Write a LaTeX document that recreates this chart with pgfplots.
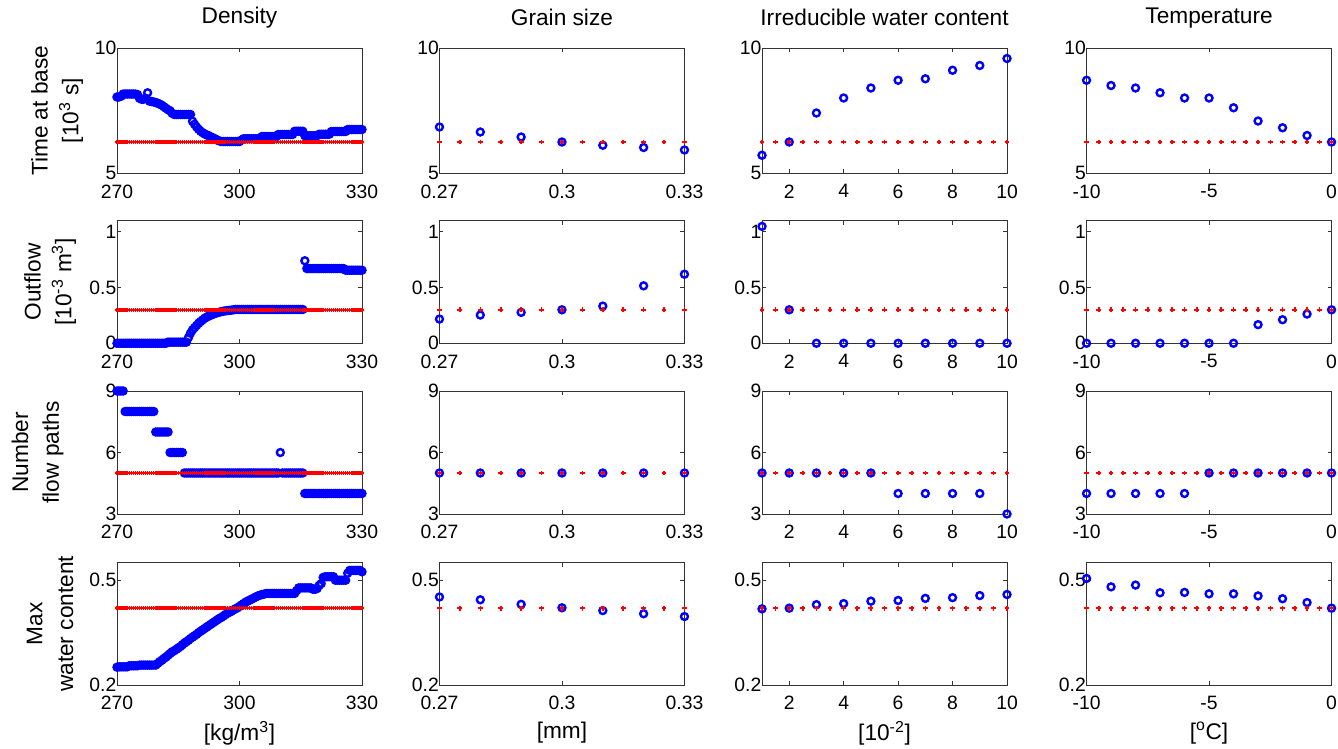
\documentclass[border=0pt]{standalone}
\usepackage{pgfplots}
\usepackage{pgfplotstable}
\pgfplotsset{compat=1.18}
\usepackage{fontspec}
\setmainfont{Liberation Sans}

\pgfplotstableread{
x t o n w bt bo bn bw
270 8.05 0 9 0.251 6.25 0.3 5 0.42
270.5 8.05 0 9 0.252 6.25 0.3 5 0.42
271 8.08 0 9 0.252 6.25 0.3 5 0.42
271.5 8.17 0 9 0.252 6.25 0.3 5 0.42
272 8.17 0 8 0.252 6.25 0.3 5 0.42
272.5 8.17 0 8 0.252 6.25 0.3 5 0.42
273 8.17 0 8 0.255 6.25 0.3 5 0.42
273.5 8.17 0 8 0.255 6.25 0.3 5 0.42
274 8.17 0 8 0.255 6.25 0.3 5 0.42
274.5 8.17 0 8 0.255 6.25 0.3 5 0.42
275 8.15 0 8 0.255 6.25 0.3 5 0.42
275.5 8.00 0 8 0.257 6.25 0.3 5 0.42
276 7.96 0 8 0.257 6.25 0.3 5 0.42
276.5 7.96 0 8 0.257 6.25 0.3 5 0.42
277 8.00 0 8 0.257 6.25 0.3 5 0.42
277.5 8.22 0 8 0.257 6.25 0.3 5 0.42
278 7.88 0 8 0.257 6.25 0.3 5 0.42
278.5 7.87 0 8 0.257 6.25 0.3 5 0.42
279 7.85 0 8 0.257 6.25 0.3 5 0.42
279.5 7.83 0 7 0.257 6.25 0.3 5 0.42
280 7.80 0 7 0.262 6.25 0.3 5 0.42
280.5 7.76 0 7 0.267 6.25 0.3 5 0.42
281 7.72 0 7 0.271 6.25 0.3 5 0.42
281.5 7.66 0 7 0.276 6.25 0.3 5 0.42
282 7.60 0 7 0.280 6.25 0.3 5 0.42
282.5 7.54 0.01 7 0.285 6.25 0.3 5 0.42
283 7.50 0.01 6 0.290 6.25 0.3 5 0.42
283.5 7.40 0.01 6 0.295 6.25 0.3 5 0.42
284 7.35 0.01 6 0.298 6.25 0.3 5 0.42
284.5 7.35 0.01 6 0.302 6.25 0.3 5 0.42
285 7.35 0.01 6 0.306 6.25 0.3 5 0.42
285.5 7.35 0.01 6 0.310 6.25 0.3 5 0.42
286 7.35 0.01 6 0.315 6.25 0.3 5 0.42
286.5 7.35 0.01 5 0.320 6.25 0.3 5 0.42
287 7.35 0.01 5 0.324 6.25 0.3 5 0.42
287.5 7.35 0.05 5 0.328 6.25 0.3 5 0.42
288 7.35 0.09 5 0.333 6.25 0.3 5 0.42
288.5 7.08 0.12 5 0.337 6.25 0.3 5 0.42
289 6.96 0.14 5 0.341 6.25 0.3 5 0.42
289.5 6.85 0.16 5 0.345 6.25 0.3 5 0.42
290 6.76 0.18 5 0.350 6.25 0.3 5 0.42
290.5 6.68 0.195 5 0.354 6.25 0.3 5 0.42
291 6.62 0.21 5 0.358 6.25 0.3 5 0.42
291.5 6.57 0.225 5 0.362 6.25 0.3 5 0.42
292 6.53 0.235 5 0.366 6.25 0.3 5 0.42
292.5 6.50 0.245 5 0.370 6.25 0.3 5 0.42
293 6.45 0.252 5 0.374 6.25 0.3 5 0.42
293.5 6.42 0.26 5 0.378 6.25 0.3 5 0.42
294 6.38 0.267 5 0.382 6.25 0.3 5 0.42
294.5 6.33 0.273 5 0.386 6.25 0.3 5 0.42
295 6.30 0.278 5 0.390 6.25 0.3 5 0.42
295.5 6.27 0.283 5 0.393 6.25 0.3 5 0.42
296 6.27 0.287 5 0.397 6.25 0.3 5 0.42
296.5 6.27 0.29 5 0.401 6.25 0.3 5 0.42
297 6.27 0.293 5 0.405 6.25 0.3 5 0.42
297.5 6.27 0.295 5 0.408 6.25 0.3 5 0.42
298 6.27 0.297 5 0.411 6.25 0.3 5 0.42
298.5 6.27 0.300 5 0.415 6.25 0.3 5 0.42
299 6.27 0.303 5 0.418 6.25 0.3 5 0.42
299.5 6.27 0.303 5 0.421 6.25 0.3 5 0.42
300 6.27 0.303 5 0.425 6.25 0.3 5 0.42
300.5 6.33 0.303 5 0.429 6.25 0.3 5 0.42
301 6.38 0.303 5 0.433 6.25 0.3 5 0.42
301.5 6.38 0.303 5 0.437 6.25 0.3 5 0.42
302 6.38 0.303 5 0.440 6.25 0.3 5 0.42
302.5 6.38 0.303 5 0.443 6.25 0.3 5 0.42
303 6.38 0.303 5 0.446 6.25 0.3 5 0.42
303.5 6.38 0.303 5 0.449 6.25 0.3 5 0.42
304 6.38 0.303 5 0.452 6.25 0.3 5 0.42
304.5 6.38 0.303 5 0.455 6.25 0.3 5 0.42
305 6.38 0.303 5 0.457 6.25 0.3 5 0.42
305.5 6.47 0.303 5 0.459 6.25 0.3 5 0.42
306 6.47 0.303 5 0.460 6.25 0.3 5 0.42
306.5 6.47 0.303 5 0.462 6.25 0.3 5 0.42
307 6.47 0.303 5 0.462 6.25 0.3 5 0.42
307.5 6.47 0.303 5 0.462 6.25 0.3 5 0.42
308 6.47 0.303 5 0.462 6.25 0.3 5 0.42
308.5 6.47 0.303 5 0.462 6.25 0.3 5 0.42
309 6.47 0.303 5 0.462 6.25 0.3 5 0.42
309.5 6.55 0.303 5 0.462 6.25 0.3 5 0.42
310 6.55 0.303 6 0.462 6.25 0.3 5 0.42
310.5 6.55 0.303 5 0.462 6.25 0.3 5 0.42
311 6.55 0.303 5 0.462 6.25 0.3 5 0.42
311.5 6.55 0.303 5 0.462 6.25 0.3 5 0.42
312 6.55 0.303 5 0.462 6.25 0.3 5 0.42
312.5 6.55 0.303 5 0.462 6.25 0.3 5 0.42
313 6.55 0.303 5 0.462 6.25 0.3 5 0.42
313.5 6.68 0.303 5 0.462 6.25 0.3 5 0.42
314 6.68 0.303 5 0.470 6.25 0.3 5 0.42
314.5 6.68 0.303 5 0.478 6.25 0.3 5 0.42
315 6.68 0.303 5 0.478 6.25 0.3 5 0.42
315.5 6.68 0.303 5 0.478 6.25 0.3 5 0.42
316 6.50 0.74 4 0.478 6.25 0.3 5 0.42
316.5 6.50 0.67 4 0.478 6.25 0.3 5 0.42
317 6.50 0.67 4 0.478 6.25 0.3 5 0.42
317.5 6.50 0.67 4 0.478 6.25 0.3 5 0.42
318 6.50 0.67 4 0.474 6.25 0.3 5 0.42
318.5 6.50 0.67 4 0.474 6.25 0.3 5 0.42
319 6.50 0.67 4 0.476 6.25 0.3 5 0.42
319.5 6.56 0.67 4 0.485 6.25 0.3 5 0.42
320 6.56 0.67 4 0.490 6.25 0.3 5 0.42
320.5 6.56 0.67 4 0.508 6.25 0.3 5 0.42
321 6.56 0.67 4 0.510 6.25 0.3 5 0.42
321.5 6.56 0.67 4 0.510 6.25 0.3 5 0.42
322 6.56 0.67 4 0.510 6.25 0.3 5 0.42
322.5 6.67 0.67 4 0.510 6.25 0.3 5 0.42
323 6.67 0.67 4 0.510 6.25 0.3 5 0.42
323.5 6.67 0.67 4 0.500 6.25 0.3 5 0.42
324 6.67 0.67 4 0.500 6.25 0.3 5 0.42
324.5 6.67 0.67 4 0.500 6.25 0.3 5 0.42
325 6.67 0.67 4 0.500 6.25 0.3 5 0.42
325.5 6.67 0.67 4 0.500 6.25 0.3 5 0.42
326 6.67 0.655 4 0.500 6.25 0.3 5 0.42
326.5 6.75 0.655 4 0.520 6.25 0.3 5 0.42
327 6.75 0.655 4 0.528 6.25 0.3 5 0.42
327.5 6.75 0.655 4 0.528 6.25 0.3 5 0.42
328 6.75 0.655 4 0.528 6.25 0.3 5 0.42
328.5 6.75 0.655 4 0.528 6.25 0.3 5 0.42
329 6.75 0.655 4 0.528 6.25 0.3 5 0.42
329.5 6.75 0.655 4 0.528 6.25 0.3 5 0.42
330 6.75 0.655 4 0.524 6.25 0.3 5 0.42
}\dens

\pgfplotstableread{
x t o n w
0.27 6.85 0.217 5 0.452
0.28 6.65 0.253 5 0.444
0.29 6.45 0.277 5 0.431
0.30 6.25 0.300 5 0.421
0.31 6.12 0.333 5 0.413
0.32 6.03 0.515 5 0.404
0.33 5.93 0.619 5 0.396
}\grain
\pgfplotstableread{
x t o n w
0.27 6.25 0.3 5 0.42
0.275 6.25 0.3 5 0.42
0.28 6.25 0.3 5 0.42
0.285 6.25 0.3 5 0.42
0.29 6.25 0.3 5 0.42
0.295 6.25 0.3 5 0.42
0.30 6.25 0.3 5 0.42
0.305 6.25 0.3 5 0.42
0.31 6.25 0.3 5 0.42
0.315 6.25 0.3 5 0.42
0.32 6.25 0.3 5 0.42
0.325 6.25 0.3 5 0.42
0.33 6.25 0.3 5 0.42
}\grainbase

\pgfplotstableread{
x t o n w
1 5.72 1.048 5 0.418
2 6.25 0.300 5 0.420
3 7.41 0 5 0.430
4 8.01 0 5 0.433
5 8.41 0 5 0.440
6 8.72 0 4 0.442
7 8.78 0 4 0.448
8 9.12 0 4 0.450
9 9.31 0 4 0.456
10 9.59 0 3 0.459
}\irr
\pgfplotstableread{
x t o n w
1 6.25 0.3 5 0.42
1.5 6.25 0.3 5 0.42
2 6.25 0.3 5 0.42
2.5 6.25 0.3 5 0.42
3 6.25 0.3 5 0.42
3.5 6.25 0.3 5 0.42
4 6.25 0.3 5 0.42
4.5 6.25 0.3 5 0.42
5 6.25 0.3 5 0.42
5.5 6.25 0.3 5 0.42
6 6.25 0.3 5 0.42
6.5 6.25 0.3 5 0.42
7 6.25 0.3 5 0.42
7.5 6.25 0.3 5 0.42
8 6.25 0.3 5 0.42
8.5 6.25 0.3 5 0.42
9 6.25 0.3 5 0.42
9.5 6.25 0.3 5 0.42
10 6.25 0.3 5 0.42
}\irrbase

\pgfplotstableread{
x t o n w
-10 8.72 0 4 0.505
-9 8.51 0 4 0.481
-8 8.41 0 4 0.486
-7 8.22 0 4 0.464
-6 8.01 0 4 0.465
-5 8.01 0 5 0.461
-4 7.62 0 5 0.461
-3 7.09 0.167 5 0.455
-2 6.82 0.211 5 0.447
-1 6.51 0.262 5 0.436
0 6.25 0.300 5 0.420
}\temp
\pgfplotstableread{
x t o n w
-10 6.25 0.3 5 0.42
-9.5 6.25 0.3 5 0.42
-9 6.25 0.3 5 0.42
-8.5 6.25 0.3 5 0.42
-8 6.25 0.3 5 0.42
-7.5 6.25 0.3 5 0.42
-7 6.25 0.3 5 0.42
-6.5 6.25 0.3 5 0.42
-6 6.25 0.3 5 0.42
-5.5 6.25 0.3 5 0.42
-5 6.25 0.3 5 0.42
-4.5 6.25 0.3 5 0.42
-4 6.25 0.3 5 0.42
-3.5 6.25 0.3 5 0.42
-3 6.25 0.3 5 0.42
-2.5 6.25 0.3 5 0.42
-2 6.25 0.3 5 0.42
-1.5 6.25 0.3 5 0.42
-1 6.25 0.3 5 0.42
-0.5 6.25 0.3 5 0.42
0 6.25 0.3 5 0.42
}\tempbase

\pgfplotsset{
  panel/.style={
    scale only axis, width=183.75pt, clip=false,
    axis line style={black!80, line width=0.6pt},
    tick align=inside, major tick length=3pt,
    tick style={black!80, line width=0.5pt},
    ticklabel style={font=\fontsize{14.5}{16}\selectfont},
    /pgf/number format/assume math mode=true,
    xticklabel style={yshift=-5pt},
    yticklabel style={xshift=3pt},
    label style={font=\fontsize{17}{23}\selectfont},
    title style={font=\fontsize{17}{23}\selectfont, at={(axis description cs:0.5,1)}, anchor=center, yshift=17pt},
    xlabel style={at={(axis description cs:0.5,0)}, anchor=center, yshift=-36pt},
  },
  c1/.style={xmin=270, xmax=330, xtick={270,300,330}, xticklabels={270,300,330}},
  c2/.style={xmin=0.27, xmax=0.33, xtick={0.27,0.3,0.33}, xticklabels={0.27,0.3,0.33}},
  c3/.style={xmin=1, xmax=10, xtick={2,4,6,8,10}, xticklabels={2,4,6,8,10}},
  c4/.style={xmin=-10, xmax=0, xtick={-10,-5,0}, xticklabels={-10,-5,0}},
  r1/.style={ymin=5, ymax=10, ytick={5,10}, yticklabels={5,10}, height=93.75pt},
  r2/.style={ymin=0, ymax=1.1, ytick={0,0.5,1}, yticklabels={0,0.5,1}, height=92pt},
  r3/.style={ymin=3, ymax=9, ytick={3,6,9}, yticklabels={3,6,9}, height=92.25pt},
  r4/.style={ymin=0.2, ymax=0.55, ytick={0.2,0.5}, yticklabels={0.2,0.5}, height=91.7pt},
  bl/.style={only marks, mark=o, color=blue, mark size=2.6pt,
    mark options={draw=blue, fill=none, line width=1.8pt}},
  rd/.style={only marks, mark=+, color=red, mark size=1.8pt,
    mark options={draw=red, line width=1.2pt}},
  rdd/.style={only marks, mark=+, color=red, mark size=1.5pt,
    mark options={draw=red, line width=1.1pt}},
}

\begin{document}
\begin{tikzpicture}
\useasboundingbox (0,0) rectangle (1003.5pt,561.75pt);
% ---------- row 1 ----------
\begin{axis}[panel, c1, r1, at={(87.75pt,431.8pt)}, title={Density},
  ylabel={Time at base\\{}[10\textsuperscript{3} s]},
  ylabel style={at={(axis description cs:-0.244,0.5)}, anchor=center, align=center}]
\addplot[bl] table[x=x,y=t]{\dens};
\addplot[rdd] table[x=x,y=bt]{\dens};
\end{axis}
\begin{axis}[panel, c2, r1, at={(329.6pt,431.8pt)}, title={Grain size}]
\addplot[bl] table[x=x,y=t]{\grain};
\addplot[rd] table[x=x,y=t]{\grainbase};
\end{axis}
\begin{axis}[panel, c3, r1, at={(571.5pt,431.8pt)}, title={Irreducible water content}]
\addplot[bl] table[x=x,y=t]{\irr};
\addplot[rd] table[x=x,y=t]{\irrbase};
\end{axis}
\begin{axis}[panel, c4, r1, at={(814.9pt,431.8pt)}, title={Temperature}]
\addplot[bl] table[x=x,y=t]{\temp};
\addplot[rd] table[x=x,y=t]{\tempbase};
\end{axis}
% ---------- row 2 ----------
\begin{axis}[panel, c1, r2, at={(87.75pt,304.3pt)},
  ylabel={Outflow\\{}[10\textsuperscript{-3} m\textsuperscript{3}]},
  ylabel style={at={(axis description cs:-0.273,0.5)}, anchor=center, align=center}]
\addplot[bl] table[x=x,y=o]{\dens};
\addplot[rdd] table[x=x,y=bo]{\dens};
\end{axis}
\begin{axis}[panel, c2, r2, at={(329.6pt,304.3pt)}]
\addplot[bl] table[x=x,y=o]{\grain};
\addplot[rd] table[x=x,y=o]{\grainbase};
\end{axis}
\begin{axis}[panel, c3, r2, at={(571.5pt,304.3pt)}]
\addplot[bl] table[x=x,y=o]{\irr};
\addplot[rd] table[x=x,y=o]{\irrbase};
\end{axis}
\begin{axis}[panel, c4, r2, at={(814.9pt,304.3pt)}]
\addplot[bl] table[x=x,y=o]{\temp};
\addplot[rd] table[x=x,y=o]{\tempbase};
\end{axis}
% ---------- row 3 ----------
\begin{axis}[panel, c1, r3, at={(87.75pt,176.25pt)},
  ylabel={Number\\flow paths},
  ylabel style={at={(axis description cs:-0.324,0.5)}, anchor=center, align=center}]
\addplot[bl] table[x=x,y=n]{\dens};
\addplot[rdd] table[x=x,y=bn]{\dens};
\end{axis}
\begin{axis}[panel, c2, r3, at={(329.6pt,176.25pt)}]
\addplot[bl] table[x=x,y=n]{\grain};
\addplot[rd] table[x=x,y=n]{\grainbase};
\end{axis}
\begin{axis}[panel, c3, r3, at={(571.5pt,176.25pt)}]
\addplot[bl] table[x=x,y=n]{\irr};
\addplot[rd] table[x=x,y=n]{\irrbase};
\end{axis}
\begin{axis}[panel, c4, r3, at={(814.9pt,176.25pt)}]
\addplot[bl] table[x=x,y=n]{\temp};
\addplot[rd] table[x=x,y=n]{\tempbase};
\end{axis}
% ---------- row 4 ----------
\begin{axis}[panel, c1, r4, at={(87.75pt,48pt)}, xlabel={[kg/m\textsuperscript{3}]},
  ylabel={Max\\water content},
  ylabel style={at={(axis description cs:-0.273,0.5)}, anchor=center, align=center}]
\addplot[bl] table[x=x,y=w]{\dens};
\addplot[rdd] table[x=x,y=bw]{\dens};
\end{axis}
\begin{axis}[panel, c2, r4, at={(329.6pt,48pt)}, xlabel={[mm]}]
\addplot[bl] table[x=x,y=w]{\grain};
\addplot[rd] table[x=x,y=w]{\grainbase};
\end{axis}
\begin{axis}[panel, c3, r4, at={(571.5pt,48pt)}, xlabel={[10\textsuperscript{-2}]}]
\addplot[bl] table[x=x,y=w]{\irr};
\addplot[rd] table[x=x,y=w]{\irrbase};
\end{axis}
\begin{axis}[panel, c4, r4, at={(814.9pt,48pt)}, xlabel={[\textsuperscript{o}C]}]
\addplot[bl] table[x=x,y=w]{\temp};
\addplot[rd] table[x=x,y=w]{\tempbase};
\end{axis}
\end{tikzpicture}
\end{document}
